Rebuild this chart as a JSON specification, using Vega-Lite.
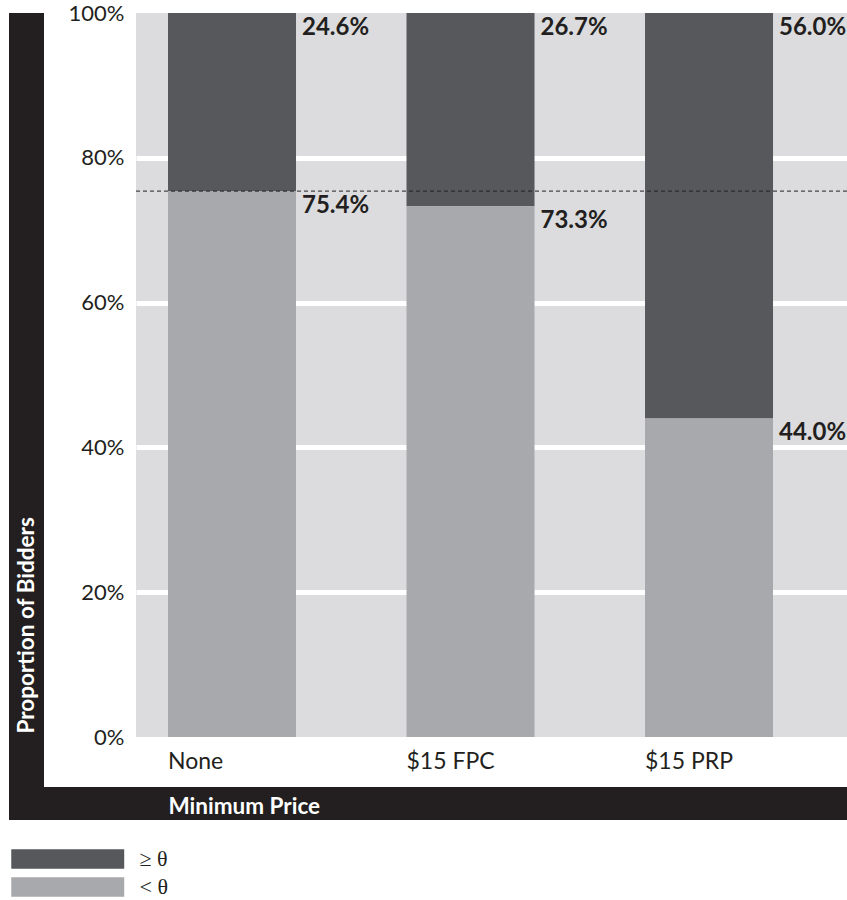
{
  "$schema": "https://vega.github.io/schema/vega-lite/v6.json",
  "padding": {"left": 9, "top": 2, "right": 0, "bottom": 0},
  "background": "white",
  "config": {"view": {"stroke": null}, "font": "Lato"},
  "datasets": {
    "shares": [
      {"price": "None", "group": "≥ θ", "value": 0.246},
      {"price": "None", "group": "< θ", "value": 0.754},
      {"price": "$15 FPC", "group": "≥ θ", "value": 0.267},
      {"price": "$15 FPC", "group": "< θ", "value": 0.733},
      {"price": "$15 PRP", "group": "≥ θ", "value": 0.56},
      {"price": "$15 PRP", "group": "< θ", "value": 0.44}
    ],
    "threshold": [{"level": 0.754}],
    "blank": [{"v": 0}]
  },
  "spacing": 0,
  "bounds": "full",
  "vconcat": [
    {
      "spacing": 92,
      "bounds": "flush",
      "hconcat": [
        {
          "width": 35,
          "height": 774,
          "view": {"fill": "#231f20", "stroke": null},
          "data": {"name": "blank"},
          "mark": {"type": "point", "opacity": 0},
          "encoding": {}
        },
        {
          "width": 711,
          "height": 724,
          "view": {"fill": "#dcdcde", "stroke": null},
          "layer": [
            {
              "data": {"name": "shares"},
              "mark": {"type": "bar"},
              "encoding": {
                "x": {
                  "field": "price", "type": "nominal",
                  "sort": ["None", "$15 FPC", "$15 PRP"],
                  "scale": {"paddingInner": 0.4633, "paddingOuter": 0.2222, "align": 0.302},
                  "axis": {
                    "title": null, "labelAngle": 0, "labelAlign": "left", "labelOffset": -64,
                    "ticks": false, "domain": false, "grid": false, "labelPadding": 13,
                    "labelFontSize": 23, "labelColor": "#231f20", "labelFont": "Lato"
                  }
                },
                "y": {
                  "field": "value", "type": "quantitative", "stack": "zero",
                  "scale": {"domain": [0, 1], "nice": false},
                  "axis": {
                    "title": "Proportion of Bidders",
                    "format": "%",
                    "values": [0, 0.2, 0.4, 0.6, 0.8, 1],
                    "domain": false, "ticks": false, "grid": true,
                    "gridColor": {"condition": {"test": "datum.value === 0 || datum.value === 1", "value": "transparent"}, "value": "white"},
                    "gridWidth": 5,
                    "labelFontSize": 22, "labelFont": "Lato", "labelPadding": 12, "labelColor": "#231f20",
                    "titleColor": "white", "titleFontSize": 22.5, "titleFontWeight": "bold", "titleFont": "Lato",
                    "titleX": -109.5, "titleY": 720, "titleAngle": 270, "titleAlign": "left", "titleBaseline": "middle"
                  }
                },
                "color": {
                  "field": "group", "type": "nominal",
                  "scale": {"domain": ["≥ θ", "< θ"], "range": ["#57585c", "#a8a9ad"]},
                  "legend": {
                    "title": null, "orient": "none", "legendX": 1, "legendY": 835,
                    "symbolType": "M-1,-1H10.59V1H-1Z", "symbolSize": 380,
                    "symbolStrokeWidth": 0, "symbolOpacity": 1,
                    "labelFont": "Liberation Serif", "labelFontSize": 22, "labelColor": "#231f20",
                    "labelOffset": 107.5, "rowPadding": 6, "padding": 0
                  }
                },
                "order": {"field": "group", "sort": "ascending"}
              }
            },
            {
              "data": {"name": "shares"},
              "mark": {
                "type": "text", "align": "left", "baseline": "top", "dx": 6, "dy": 3,
                "fontSize": 24, "fontWeight": "bold", "font": "Lato", "color": "#231f20"
              },
              "encoding": {
                "x": {"field": "price", "type": "nominal", "sort": ["None", "$15 FPC", "$15 PRP"], "bandPosition": 1},
                "y": {"field": "value", "type": "quantitative", "stack": "zero"},
                "detail": {"field": "group"},
                "order": {"field": "group", "sort": "ascending"},
                "text": {"field": "value", "type": "quantitative", "format": ".1%"}
              }
            },
            {
              "data": {"name": "threshold"},
              "mark": {"type": "rule", "strokeDash": [4, 3], "color": "#231f20", "strokeWidth": 1},
              "encoding": {"y": {"field": "level", "type": "quantitative"}}
            }
          ]
        }
      ]
    },
    {
      "width": 838,
      "height": 33,
      "view": {"fill": "#231f20", "stroke": null},
      "data": {"name": "blank"},
      "mark": {"type": "point", "opacity": 0},
      "encoding": {
        "x": {
          "field": "v", "type": "quantitative",
          "axis": {
            "orient": "top", "title": "Minimum Price", "labels": false, "ticks": false,
            "domain": false, "grid": false, "titleColor": "white", "titleFontSize": 22.5,
            "titleFontWeight": "bold", "titleFont": "Lato", "titleAnchor": "start",
            "titleAlign": "left", "titleBaseline": "middle", "titleX": 159, "titleY": 19
          }
        }
      }
    }
  ]
}
